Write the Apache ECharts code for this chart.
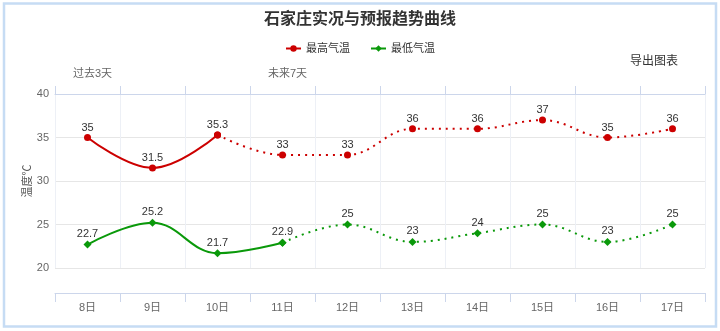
<!DOCTYPE html>
<html>
<head>
<meta charset="utf-8">
<style>
  html, body { margin: 0; padding: 0; background: #fff; }
  #chart { width: 720px; height: 331px; }
</style>
<script src="https://cdn.jsdelivr.net/npm/echarts@6/dist/echarts.min.js"></script>
</head>
<body>
<div id="chart"></div>
<script>
// Days shown on the category axis
const days = ['8日', '9日', '10日', '11日', '12日', '13日', '14日', '15日', '16日', '17日'];
// Daily maximum / minimum temperature (°C)
const highTemps = [35, 31.5, 35.3, 33, 33, 36, 36, 37, 35, 36];
const lowTemps = [22.7, 25.2, 21.7, 22.9, 25, 23, 24, 25, 23, 25];
// Number of leading points that are observations (solid); the rest is forecast (dotted)
const highObservedCount = 3;
const lowObservedCount = 4;
// Value axis ticks
const yTicks = [20, 25, 30, 35, 40];

const FONT = '"Liberation Sans", Arial, "Noto Sans CJK SC", sans-serif';
const RED = '#cc0000';
const GREEN = '#0a990a';

// Split a series into the observed (solid) part and the forecast (dotted) part.
// The joining point belongs to both; its label is shown only once.
function observedPart(values, n) {
  return values.map((v, i) => (i < n ? v : '-'));
}
function forecastPart(values, n) {
  return values.map((v, i) => {
    if (i < n - 1) return '-';
    if (i === n - 1) return { value: v, label: { show: false } };
    return v;
  });
}

const labelStyle = {
  show: true,
  position: 'top',
  distance: 1,
  color: '#333',
  fontSize: 11,
  fontFamily: FONT
};

function makeSeries(name, values, n, color, symbol, size) {
  return [
    {
      name: name,
      type: 'line',
      smooth: 0.4,
      data: observedPart(values, n),
      symbol: symbol,
      symbolSize: size,
      showAllSymbol: true,
      itemStyle: { color: color },
      lineStyle: { color: color, width: 2 },
      label: labelStyle,
      z: 3
    },
    {
      name: name,
      type: 'line',
      smooth: 0.4,
      data: forecastPart(values, n),
      symbol: symbol,
      symbolSize: size,
      showAllSymbol: true,
      itemStyle: { color: color },
      lineStyle: { color: color, width: 2, type: [2, 5] },
      label: labelStyle,
      z: 2
    }
  ];
}

const chart = echarts.init(document.getElementById('chart'), null, { renderer: 'canvas' });

chart.setOption({
  animation: false,
  textStyle: { fontFamily: FONT },
  title: {
    text: '石家庄实况与预报趋势曲线',
    left: 'center',
    top: 7,
    textStyle: { fontSize: 16, fontWeight: 'bold', color: '#333', fontFamily: FONT }
  },
  legend: {
    data: ['最高气温', '最低气温'],
    top: 38,
    left: 'center',
    itemWidth: 15,
    itemHeight: 8,
    itemGap: 20,
    textStyle: { fontSize: 11, color: '#333', fontFamily: FONT }
  },
  grid: { left: 55, right: 15, top: 94, bottom: 63, containLabel: false },
  xAxis: [
    {
      type: 'category',
      data: days,
      position: 'bottom',
      offset: 25,
      boundaryGap: true,
      axisLine: { show: true, lineStyle: { color: '#ccd6eb', width: 1 } },
      axisTick: { show: true, length: 9, lineStyle: { color: '#ccd6eb' } },
      axisLabel: { color: '#666', fontSize: 11, margin: 9, fontFamily: FONT },
      splitLine: { show: false }
    },
    {
      type: 'category',
      data: days,
      position: 'top',
      boundaryGap: true,
      axisLine: { show: true, lineStyle: { color: '#ccd6eb', width: 1 } },
      axisTick: { show: true, length: 8, lineStyle: { color: '#ccd6eb' } },
      axisLabel: { show: false },
      splitLine: { show: true, lineStyle: { color: '#edf0f6', width: 1 } }
    }
  ],
  yAxis: {
    type: 'value',
    min: yTicks[0],
    max: yTicks[yTicks.length - 1],
    interval: 5,
    name: '温度℃',
    nameLocation: 'middle',
    nameGap: 22,
    nameRotate: 90,
    nameMoveOverlap: false,
    nameTextStyle: { color: '#555', fontSize: 11, fontFamily: FONT },
    axisLine: { show: false },
    axisTick: { show: false },
    axisLabel: { color: '#666', fontSize: 11, margin: 6, fontFamily: FONT },
    splitLine: { show: true, lineStyle: { color: '#e6e6e6', width: 1 } }
  },
  series: [
    ...makeSeries('最高气温', highTemps, highObservedCount, RED, 'circle', 7),
    ...makeSeries('最低气温', lowTemps, lowObservedCount, GREEN, 'diamond', 8)
  ],
  graphic: [
    {
      type: 'rect',
      silent: true,
      shape: { x: 4, y: 3.5, width: 712, height: 323 },
      style: { fill: 'none', stroke: '#c6dcf4', lineWidth: 2.5 }
    },
    {
      type: 'text',
      left: 630,
      top: 56,
      style: { text: '导出图表', fill: '#333', font: '12px ' + FONT }
    },
    {
      type: 'text',
      left: 73,
      top: 68,
      style: { text: '过去3天', fill: '#666', font: '11px ' + FONT }
    },
    {
      type: 'text',
      left: 268,
      top: 68,
      style: { text: '未来7天', fill: '#666', font: '11px ' + FONT }
    }
  ]
});
</script>
</body>
</html>
